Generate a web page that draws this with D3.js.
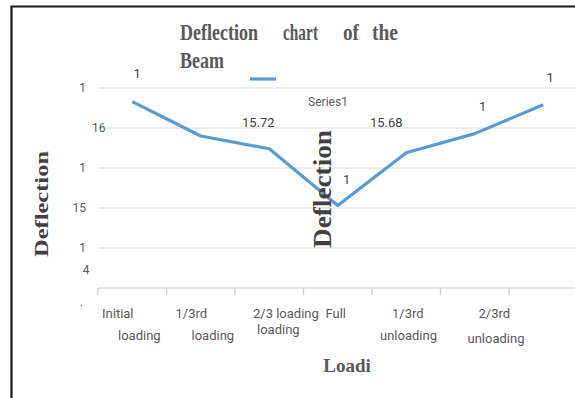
<!DOCTYPE html>
<html>
<head>
<meta charset="utf-8">
<script src="https://d3js.org/d3.v7.min.js"></script>
<style>
  body { margin: 0; background: #fff; }
  svg { display: block; }
</style>
</head>
<body>
<svg id="chart" width="575" height="398"></svg>
<script>
// data
const categories = ["Initial loading", "1/3rd loading", "2/3 loading", "Full loading",
                    "1/3rd unloading", "2/3rd unloading", "Full unloading"];
const deflection = [16.33, 15.9, 15.74, 15.03, 15.69, 15.93, 16.29];
const pointLabels = ["1", "", "15.72", "1", "15.68", "1", "1"];
const tickLines = [["Initial", "loading"], ["1/3rd", "loading"], ["2/3 loading", "loading"],
                   ["Full"], ["1/3rd", "unloading"], ["2/3rd", "unloading"], []];
const yTicks = [14, 14.5, 15, 15.5, 16, 16.5];
const yTickText = [".", "1", "15", "1", "16", "1"];

// layout tweaks for the odd label placement of the original
const labelShift = [[5, -24], [0, 0], [-11, -22], [9, -22], [-20, -26], [8, -23], [7, -23]];
const tickShift = [[[4, 0], [20, 22]], [[9, 0], [25, 22]], [[18, 0], [22, 16]],
                   [[22, 0]], [[20, 0], [8, 22]], [[38, 0], [27, 25]], []];
const yTickShift = [[-15, 14], [-12, 0], [-12, 0], [-12, 0], [-6, 0], [-12, 0]];

const svg = d3.select('#chart');
const blue = '#5b9bd5';
const textGrey = '#595959';
const sans = '"Liberation Sans Narrow", "Roboto", sans-serif';
const serif = '"Liberation Serif", "DejaVu Serif", serif';

const x = d3.scaleBand()
    .domain(categories)
    .range([98, 98 + 7 * 68.5]);

const y = d3.scaleLinear()
    .domain([14, 16.5])
    .range([288, 88]);

// frame
svg.append('path')
    .attr('d', 'M11.5,398 V6.5 H575')
    .attr('fill', 'none')
    .attr('stroke', '#1a1a1a')
    .attr('stroke-width', 2.2);

// gridlines
svg.selectAll('.grid')
    .data(yTicks)
    .join('line')
        .classed('grid', true)
        .attr('x1', 98)
        .attr('x2', 575)
        .attr('y1', d => y(d))
        .attr('y2', d => y(d))
        .attr('stroke', d => d === 14 ? '#c8c8c8' : '#d9d9d9')
        .attr('stroke-width', 1.2);

// category tick marks
svg.selectAll('.xtick')
    .data(categories)
    .join('line')
        .classed('xtick', true)
        .attr('x1', d => x(d))
        .attr('x2', d => x(d))
        .attr('y1', y(14))
        .attr('y2', y(14) + 7)
        .attr('stroke', '#c8c8c8')
        .attr('stroke-width', 1.2);

// y tick labels
svg.selectAll('.ylab')
    .data(yTicks)
    .join('text')
        .classed('ylab', true)
        .attr('x', (d, i) => 98 + yTickShift[i][0])
        .attr('y', (d, i) => y(d) + 4 + yTickShift[i][1])
        .attr('text-anchor', (d, i) => i === 4 ? 'start' : 'end')
        .attr('dx', (d, i) => i === 4 ? 0 : 0)
        .style('font-family', sans)
        .style('font-size', '12px')
        .style('fill', textGrey)
        .text((d, i) => yTickText[i]);

svg.append('text')
    .attr('x', 86)
    .attr('y', y(14) - 14)
    .attr('text-anchor', 'middle')
    .style('font-family', sans)
    .style('font-size', '12px')
    .style('fill', textGrey)
    .text('4');

// x tick labels
categories.forEach((c, i) => {
    tickLines[i].forEach((line, j) => {
        svg.append('text')
            .attr('x', x(c) + tickShift[i][j][0])
            .attr('y', 318 + tickShift[i][j][1])
            .style('font-family', sans)
            .style('font-size', '13px')
            .style('fill', textGrey)
            .text(line);
    });
});

// series line
const line = d3.line()
    .x((d, i) => x(categories[i]) + x.bandwidth() / 2)
    .y(d => y(d));

svg.append('path')
    .datum(deflection)
    .attr('d', line)
    .attr('fill', 'none')
    .attr('stroke', blue)
    .attr('stroke-width', 3.2)
    .attr('stroke-linejoin', 'round');

// point labels
svg.selectAll('.plab')
    .data(deflection)
    .join('text')
        .classed('plab', true)
        .attr('x', (d, i) => x(categories[i]) + x.bandwidth() / 2 + labelShift[i][0])
        .attr('y', (d, i) => y(d) + labelShift[i][1])
        .attr('text-anchor', 'middle')
        .style('font-family', sans)
        .style('font-size', '13px')
        .style('fill', '#404040')
        .text((d, i) => pointLabels[i]);

// title, squeezed like the original
const titleWords = [["Deflection", 180, 40, 78], ["chart", 283, 40, 35], ["of", 343, 40, 16],
                    ["the", 372, 40, 26], ["Beam", 180, 68, 44]];
svg.selectAll('.title')
    .data(titleWords)
    .join('text')
        .classed('title', true)
        .attr('x', d => d[1])
        .attr('y', d => d[2])
        .attr('textLength', d => d[3])
        .attr('lengthAdjust', 'spacingAndGlyphs')
        .style('font-family', serif)
        .style('font-weight', 'bold')
        .style('font-size', '23px')
        .style('fill', textGrey)
        .text(d => d[0]);

// legend
svg.append('line')
    .attr('x1', 250).attr('x2', 276)
    .attr('y1', 79).attr('y2', 79)
    .attr('stroke', blue)
    .attr('stroke-width', 3.2);

svg.append('text')
    .attr('x', 328)
    .attr('y', 106)
    .attr('text-anchor', 'middle')
    .style('font-family', sans)
    .style('font-size', '12px')
    .style('fill', textGrey)
    .text('Series1');

// axis titles
svg.append('text')
    .attr('transform', 'translate(48,204) rotate(-90)')
    .attr('text-anchor', 'middle')
    .attr('textLength', 106)
    .attr('lengthAdjust', 'spacingAndGlyphs')
    .style('font-family', serif)
    .style('font-weight', 'bold')
    .style('font-size', '18px')
    .style('fill', '#404040')
    .text('Deflection');

svg.append('text')
    .attr('transform', 'translate(331,248) rotate(-90)')
    .attr('textLength', 118)
    .attr('lengthAdjust', 'spacingAndGlyphs')
    .style('font-family', serif)
    .style('font-weight', 'bold')
    .style('font-size', '26px')
    .style('fill', '#404040')
    .text('Deflection');

svg.append('text')
    .attr('x', 347)
    .attr('y', 372)
    .attr('text-anchor', 'middle')
    .style('font-family', serif)
    .style('font-weight', 'bold')
    .style('font-size', '19px')
    .style('fill', textGrey)
    .text('Loadi');
</script>
</body>
</html>
